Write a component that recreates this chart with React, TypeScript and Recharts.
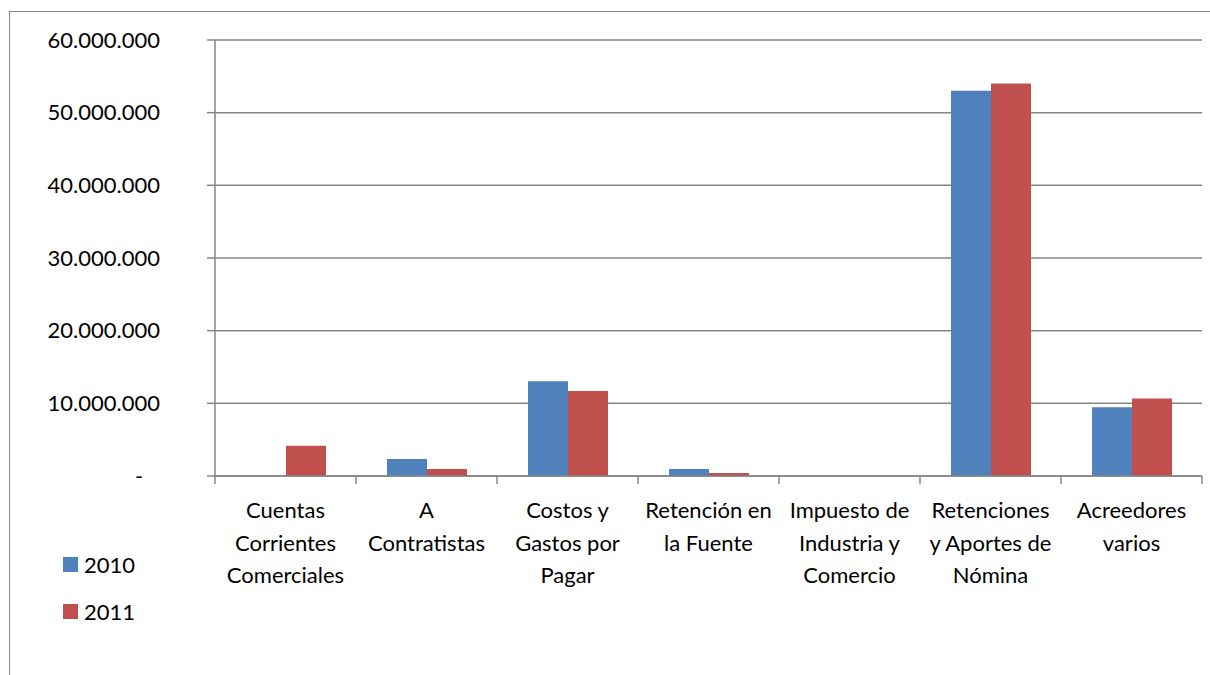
import React from "react";
import { BarChart, Bar, XAxis, YAxis, CartesianGrid } from "recharts";

const categories = [
  "Cuentas\nCorrientes\nComerciales",
  "A\nContratistas",
  "Costos y\nGastos por\nPagar",
  "Retención en\nla Fuente",
  "Impuesto de\nIndustria y\nComercio",
  "Retenciones\ny Aportes de\nNómina",
  "Acreedores\nvarios",
];

const values2010 = [0, 2350000, 13050000, 960000, 120000, 53000000, 9450000];
const values2011 = [4150000, 960000, 11700000, 410000, 0, 54000000, 10650000];

const yTicks = [0, 10000000, 20000000, 30000000, 40000000, 50000000, 60000000];

const series = [
  { key: "v2010", name: "2010", color: "#4F81BD" },
  { key: "v2011", name: "2011", color: "#C0504D" },
];

const data = categories.map((c, i) => ({ name: c, v2010: values2010[i], v2011: values2011[i] }));

const FONT = "Lato, 'DejaVu Sans', sans-serif";
const AXIS = "#868686";
const PLOT_LEFT = 215;
const PLOT_RIGHT = 1202;
const BAND = (PLOT_RIGHT - PLOT_LEFT) / categories.length;

// excel-style: zero shown as a dash, dots as thousand separators
const fmt = (v: number) =>
  v === 0 ? "-\u00a0\u00a0\u00a0" : String(v).replace(/\B(?=(\d{3})+(?!\d))/g, ".");

const CatTick = (props: any) => {
  const { x, y, payload, index } = props;
  const lines = String(payload.value).split("\n");
  return (
    <g>
      <line x1={x - BAND / 2} x2={x - BAND / 2} y1={y} y2={y + 8} stroke={AXIS} strokeWidth={1.5} />
      {index === categories.length - 1 && (
        <line x1={x + BAND / 2} x2={x + BAND / 2} y1={y} y2={y + 8} stroke={AXIS} strokeWidth={1.5} />
      )}
      {lines.map((l, i) => (
        <text key={i} x={x} y={y + 42 + i * 32.5} textAnchor="middle" fontSize={22} fontFamily={FONT} fill="#000">
          {l}
        </text>
      ))}
    </g>
  );
};

export default function App() {
  return (
    <div style={{ position: "absolute", left: 0, top: 0, width: 1210, height: 675, background: "#fff", overflow: "hidden" }}>
      <div style={{ position: "absolute", left: 9, top: 11, width: 1220, height: 700, border: `1.5px solid ${AXIS}` }} />
      <div style={{ position: "absolute", left: 0, top: 0 }}>
        <BarChart
          width={1210}
          height={675}
          data={data}
          margin={{ top: 40, right: 1210 - PLOT_RIGHT, bottom: 0, left: 0 }}
          barGap={0}
          barSize={40}
        >
          <CartesianGrid vertical={false} stroke={AXIS} strokeWidth={1.5} />
          <XAxis
            dataKey="name"
            height={199}
            interval={0}
            tickLine={false}
            tickSize={0}
            tickMargin={0}
            axisLine={{ stroke: AXIS, strokeWidth: 1.5 }}
            tick={(p: any) => <CatTick {...p} />}
          />
          <YAxis
            width={PLOT_LEFT}
            domain={[0, 60000000]}
            ticks={yTicks}
            interval={0}
            tickFormatter={fmt}
            tickSize={8}
            tickMargin={47}
            tickLine={{ stroke: AXIS, strokeWidth: 1.5 }}
            axisLine={{ stroke: AXIS, strokeWidth: 1.5 }}
            tick={{ fontSize: 22, fontFamily: FONT, fill: "#000" }}
          />
          {series.map((s) => (
            <Bar key={s.key} dataKey={s.key} name={s.name} fill={s.color} isAnimationActive={false} />
          ))}
        </BarChart>
      </div>
      {series.map((s, i) => (
        <div
          key={s.key}
          style={{ position: "absolute", left: 63, top: 551 + i * 46.5, display: "flex", alignItems: "center", fontFamily: FONT, fontSize: 22 }}
        >
          <span style={{ display: "inline-block", width: 15, height: 15, background: s.color, marginRight: 6 }} />
          <span>{s.name}</span>
        </div>
      ))}
    </div>
  );
}
